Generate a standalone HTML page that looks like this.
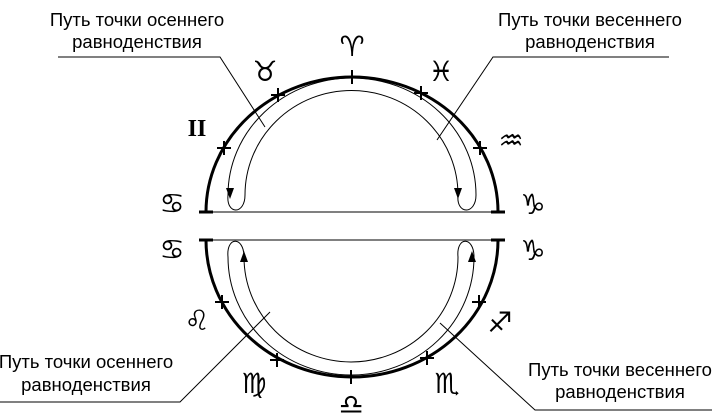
<!DOCTYPE html>
<html><head><meta charset="utf-8"><style>
html,body{margin:0;padding:0;background:#fff;}
svg{display:block;}
text{font-family:"Liberation Sans","DejaVu Sans",sans-serif;font-size:18.5px;fill:#000;}
.z{font-family:"DejaVu Sans",sans-serif;font-size:28px;font-weight:bold;text-anchor:middle;}
.g{font-family:"Liberation Serif",serif;font-size:24px;font-weight:bold;text-anchor:middle;}
</style></head><body>
<svg width="723" height="419" viewBox="0 0 723 419" xmlns="http://www.w3.org/2000/svg">
<g fill="none" stroke="#000">
<path d="M206 212 A146 135 0 0 1 498 212" stroke-width="3"/>
<line x1="200" y1="212" x2="502" y2="212" stroke-width="1"/>
<line x1="199" y1="212" x2="213" y2="212" stroke-width="3"/>
<line x1="491" y1="212" x2="505" y2="212" stroke-width="3"/>
<path d="M228 195 A124 117 0 0 1 476 195 C476 215 456 215 458 195 A106 104 0 0 0 245 195 C245 215 226 215 228 195" stroke-width="1"/>
<path d="M206 240 A146 137 0 0 0 498 240" stroke-width="3"/>
<line x1="200" y1="240" x2="502" y2="240" stroke-width="1"/>
<line x1="199" y1="240" x2="213" y2="240" stroke-width="3"/>
<line x1="491" y1="240" x2="505" y2="240" stroke-width="3"/>
<path d="M228 257 A123 118 0 0 0 474 257 C474 236 456 236 458 257 A107 105 0 0 1 244 257 C244 236 226 236 228 257" stroke-width="1"/>
<g stroke-width="2">
<path d="M352 70v14M345 77h14"/>
<path d="M278 88v14M271 95h14"/>
<path d="M224 141v14M217 148h14"/>
<path d="M421 86v14M414 93h14"/>
<path d="M480 141v14M473 148h14"/>
<path d="M222 295v14M215 302h14"/>
<path d="M277 353v14M270 360h14"/>
<path d="M351 370v14M344 377h14"/>
<path d="M427 351v14M420 358h14"/>
<path d="M479 295v14M472 302h14"/>
</g>
<g stroke-width="1">
<path d="M58 57H220L265 127"/>
<path d="M669 57H493L437 140"/>
<path d="M0 402H180L270 312"/>
<path d="M712 410H535L440 323"/>
</g>
</g>
<g fill="#000">
<path d="M226 188L234 188L230 199Z"/>
<path d="M454 188L462 188L458 199Z"/>
<path d="M240 262L248 262L244 251Z"/>
<path d="M468 262L476 262L472 251Z"/>
</g>
<text x="137" y="26" text-anchor="middle">Путь точки осеннего</text>
<text x="137" y="48" text-anchor="middle">равноденствия</text>
<text x="590" y="26" text-anchor="middle">Путь точки весеннего</text>
<text x="590" y="48" text-anchor="middle">равноденствия</text>
<text x="86" y="368" text-anchor="middle">Путь точки осеннего</text>
<text x="86" y="391" text-anchor="middle">равноденствия</text>
<text x="620" y="376" text-anchor="middle">Путь точки весеннего</text>
<text x="620" y="398" text-anchor="middle">равноденствия</text>
<text class="z" x="352" y="56">♈</text>
<text class="z" x="265" y="81">♉</text>
<text class="z" x="441" y="81">♓</text>
<text class="g" x="197" y="136">II</text>
<text class="z" x="511" y="150">♒</text>
<text class="z" x="172" y="213">♋</text>
<text class="z" x="533" y="214">♑</text>
<text class="z" x="172" y="259">♋</text>
<text class="z" x="533" y="260">♑</text>
<text class="z" x="197" y="330">♌</text>
<text class="z" x="500" y="332">♐</text>
<text class="z" x="254" y="393">♍</text>
<text class="z" x="447" y="393">♏</text>
<text class="z" x="351" y="414">♎</text>
</svg>
</body></html>
